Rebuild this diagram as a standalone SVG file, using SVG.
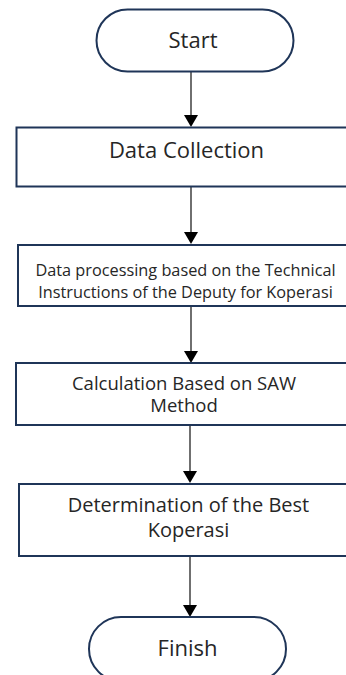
<svg xmlns="http://www.w3.org/2000/svg" width="346" height="675" viewBox="0 0 346 675">
<style>
.node{fill:#fff;stroke:#1f3558;stroke-width:2}
.t{font-family:"Open Sans","Noto Sans","DejaVu Sans",sans-serif;fill:#262626;text-anchor:middle}
.c{stroke:#333;stroke-width:1.4;fill:none}
.ah{fill:#000}
</style>
<rect width="346" height="675" fill="#fff"/>
<g id="connectors">
<line class="c" x1="191" y1="72" x2="191" y2="115"/>
<path class="ah" d="M184,115 L198,115 L191,127 Z"/>
<line class="c" x1="191" y1="187" x2="191" y2="232"/>
<path class="ah" d="M184,232 L198,232 L191,244 Z"/>
<line class="c" x1="191" y1="306" x2="191" y2="351"/>
<path class="ah" d="M184,351 L198,351 L191,363 Z"/>
<line class="c" x1="190" y1="425" x2="190" y2="471"/>
<path class="ah" d="M183,471 L197,471 L190,483 Z"/>
<line class="c" x1="190" y1="556" x2="190" y2="605"/>
<path class="ah" d="M183,605 L197,605 L190,617 Z"/>
</g>
<g id="start">
<rect class="node" x="96.500" y="9.500" width="197" height="62" rx="31" ry="31"/>
<text class="t" x="193" y="48" font-size="22">Start</text>
</g>
<g id="data-collection">
<rect class="node" x="16.500" y="127.500" width="340" height="59"/>
<text class="t" x="186.500" y="158" font-size="22">Data Collection</text>
</g>
<g id="data-processing">
<rect class="node" x="18" y="245" width="340" height="61"/>
<text class="t" x="185.500" y="276" font-size="16.3">Data processing based on the Technical</text>
<text class="t" x="185.500" y="298" font-size="16.3">Instructions of the Deputy for Koperasi</text>
</g>
<g id="calculation">
<rect class="node" x="16" y="363" width="340" height="62"/>
<text class="t" x="184" y="390" font-size="18.5">Calculation Based on SAW</text>
<text class="t" x="184" y="412" font-size="18.5">Method</text>
</g>
<g id="determination">
<rect class="node" x="19" y="484" width="340" height="72"/>
<text class="t" x="188.500" y="512" font-size="20">Determination of the Best</text>
<text class="t" x="188.500" y="537" font-size="20">Koperasi</text>
</g>
<g id="finish">
<rect class="node" x="89" y="617" width="197" height="64" rx="32" ry="32"/>
<text class="t" x="187.500" y="656" font-size="22">Finish</text>
</g>
</svg>
